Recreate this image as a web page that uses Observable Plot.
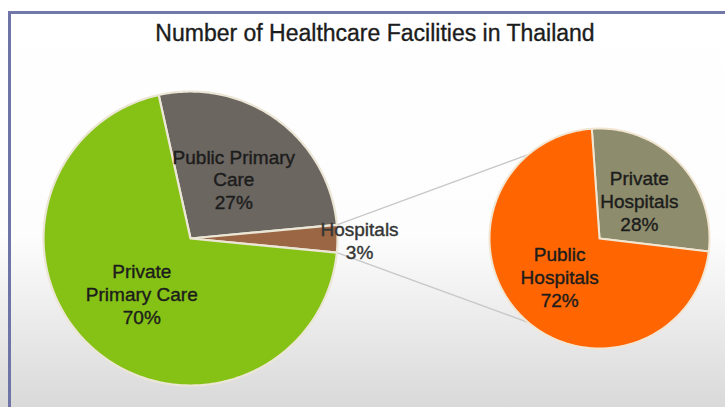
<!DOCTYPE html>
<html><head><meta charset="utf-8">
<script src="https://cdn.jsdelivr.net/npm/d3@7"></script>
<script src="https://cdn.jsdelivr.net/npm/@observablehq/plot@0.6"></script>
<style>
html,body{margin:0;padding:0;background:#fff;}
#wrap{position:relative;width:725px;height:407px;overflow:hidden;background:linear-gradient(to bottom,#ffffff 0%,#fdfdfd 58%,#d9d9d9 100%);font-family:"Liberation Sans",Arial,sans-serif;}
#frame{position:absolute;left:8px;top:11px;right:-10px;bottom:-10px;border-left:3px solid #6f74a6;border-top:3px solid #7378aa;}
#title{position:absolute;left:0;width:750px;top:20px;text-align:center;font-size:23px;color:#1c1c1c;-webkit-text-stroke:0.35px #1c1c1c;}
#chart{position:absolute;left:0;top:60px;}
</style></head><body>
<div id="wrap"><div id="frame"></div><div id="title">Number of Healthcare Facilities in Thailand</div><div id="chart"></div></div>
<script>
// ---- data ----
const mainCategories = ["Public Primary Care", "Hospitals", "Private Primary Care"];
const mainValues = [27, 3, 70];
const mainLabels = ["Public Primary\nCare\n27%", "Hospitals\n3%", "Private\nPrimary Care\n70%"];
const subCategories = ["Private Hospitals", "Public Hospitals"];
const subValues = [28, 72];
const subLabels = ["Private\nHospitals\n28%", "Public\nHospitals\n72%"];
const sliceColors = ["#6b6660", "#9a6644", "#86c216", "#8d8c6c", "#ff6602"];

// ---- layout ----
const W = 725, H = 347;
const mainPie = {cx: 190, cy: 178, r: 147, start: -12.5};
const subPie = {cx: 599, cy: 178, r: 110, start: -4};
const rad = (d) => d * Math.PI / 180;
const pt = (p, ang, rr) => [p.cx + rr * Math.sin(rad(ang)), p.cy - rr * Math.cos(rad(ang))];

function buildSlices(cats, vals, labels, p) {
  const total = d3.sum(vals);
  let a = p.start;
  return cats.map((c, i) => {
    const a0 = a, a1 = a + vals[i] / total * 360;
    a = a1;
    return {c, label: labels[i], a0, a1, mid: (a0 + a1) / 2, p};
  });
}
function polygon(s) {
  const pts = [{c: s.c, xy: [s.p.cx, s.p.cy]}];
  const n = Math.max(2, Math.ceil((s.a1 - s.a0) / 1));
  for (let k = 0; k <= n; k++) pts.push({c: s.c, xy: pt(s.p, s.a0 + (s.a1 - s.a0) * k / n, s.p.r)});
  return pts;
}
const mainSlices = buildSlices(mainCategories, mainValues, mainLabels, mainPie);
const subSlices = buildSlices(subCategories, subValues, subLabels, subPie);
const mainPts = mainSlices.flatMap(polygon);
const subPts = subSlices.flatMap(polygon);

const hosp = mainSlices[1];
const links = [
  {from: pt(mainPie, hosp.a0, mainPie.r), to: pt(subPie, 0, subPie.r)},
  {from: pt(mainPie, hosp.a1, mainPie.r), to: pt(subPie, 180, subPie.r)}
];
const labelPts = [...mainSlices, ...subSlices].map((s) => {
  const outside = s.c === "Hospitals";
  const xy = pt(s.p, outside ? 90.5 : s.mid, s.p.r * (outside ? 1.15 : 0.5));
  return {c: s.c, label: s.label, x: xy[0], y: xy[1], outside};
});

const chart = Plot.plot({
  width: W, height: H, margin: 0,
  style: {background: "transparent", fontFamily: "Liberation Sans, Arial, sans-serif"},
  x: {domain: [0, W], range: [0, W], axis: null},
  y: {domain: [0, H], range: [0, H], axis: null},
  color: {domain: [...mainCategories, ...subCategories], range: sliceColors},
  marks: [
    Plot.link(links, {x1: (d) => d.from[0], y1: (d) => d.from[1], x2: (d) => d.to[0], y2: (d) => d.to[1], stroke: "#c9c9c9", strokeWidth: 1.4}),
    Plot.line(mainPts, {x: (d) => d.xy[0], y: (d) => d.xy[1], z: "c", fill: "c", stroke: "#ece6d6", strokeWidth: 2.2, curve: "linear-closed"}),
    Plot.line(subPts, {x: (d) => d.xy[0], y: (d) => d.xy[1], z: "c", fill: "c", stroke: "#f2e6d2", strokeWidth: 2, curve: "linear-closed"}),
    Plot.text(labelPts, {x: "x", y: "y", text: "label", fontSize: 19, lineHeight: 1.2,
      fill: (d) => d.outside ? "#353535" : "#1c1c1c", stroke: (d) => d.outside ? "#353535" : "#1c1c1c", strokeWidth: 0.4})
  ]
});
document.getElementById("chart").appendChild(chart);
</script>
</body></html>
